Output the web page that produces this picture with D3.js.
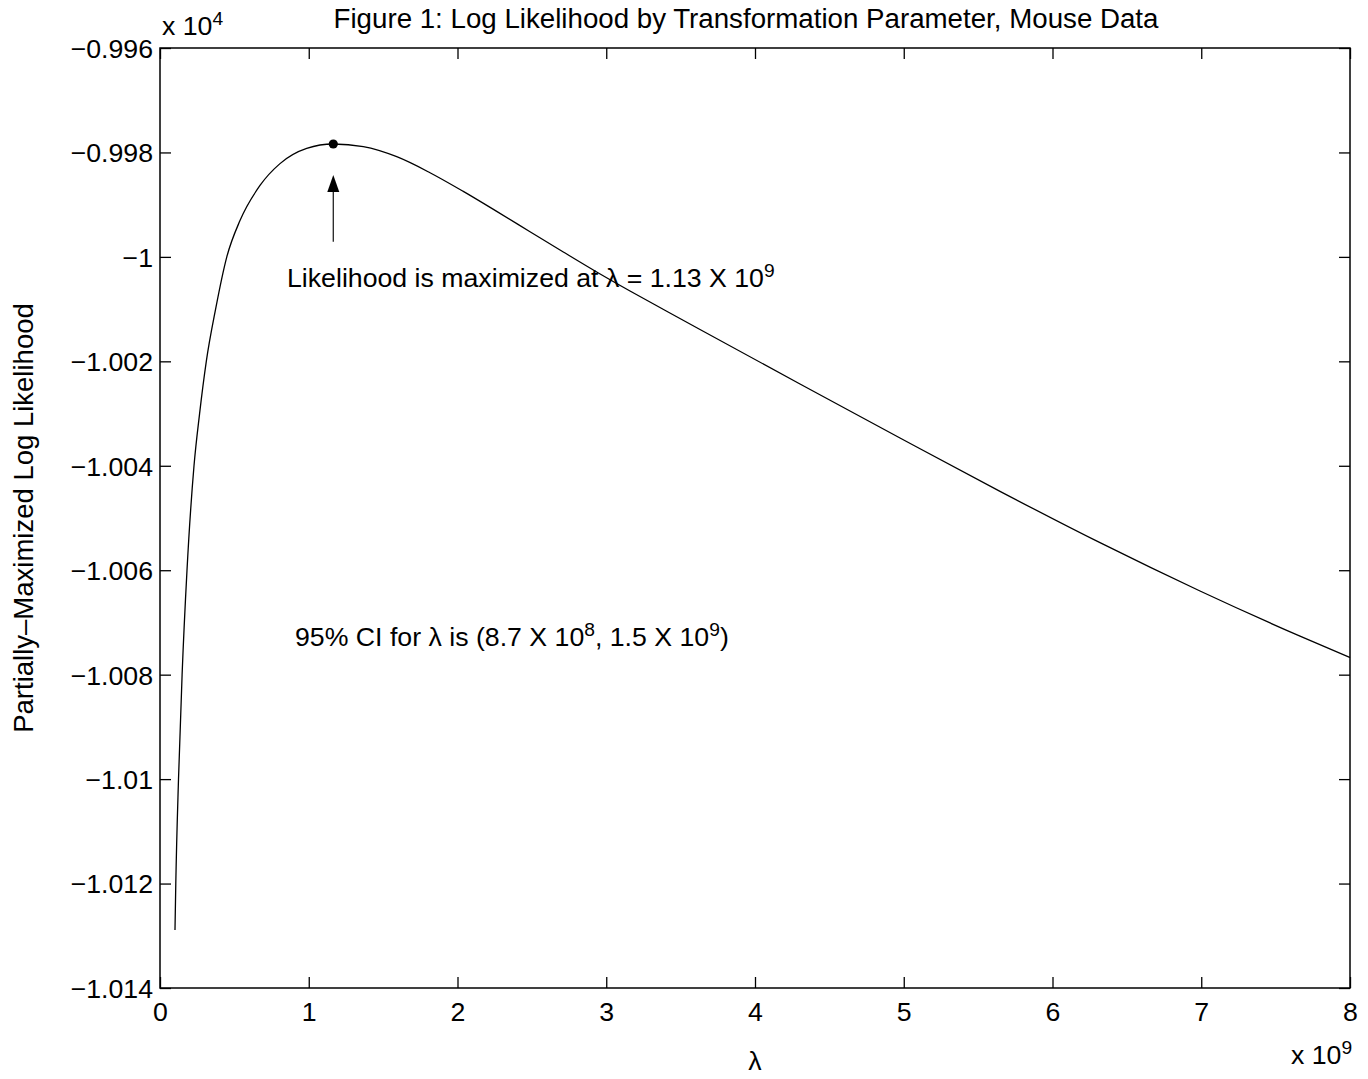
<!DOCTYPE html>
<html>
<head>
<meta charset="utf-8">
<script src="https://cdn.jsdelivr.net/npm/d3@7"></script>
<style>
  html, body { margin: 0; padding: 0; background: #fff; }
  svg text { font-family: "Liberation Sans", Arial, Helvetica, sans-serif; fill: #000; }
</style>
</head>
<body>
<svg id="chart" width="1368" height="1079"></svg>
<script>
// ---- data (lambda in units of 1e9, log likelihood in units of 1e4) ----
const lambdaE9 = [0.1008, 0.1062, 0.1244, 0.1486, 0.1815, 0.2286, 0.2662, 0.3113, 0.3738, 0.4491,
                  0.5378, 0.6723, 0.8067, 0.9862, 1.1650, 1.3667, 1.5913, 1.8151, 2.0390, 2.2635,
                  2.4874, 2.7113, 2.9358, 3.1597, 3.4064, 3.6303, 4.3025, 4.9748, 5.6471, 6.3193,
                  6.9916, 7.6639, 8.0000];
const logLikE4 = [-1.012889, -1.012000, -1.010000, -1.008000, -1.006000, -1.004000, -1.003000, -1.002000, -1.001000, -1.000000,
                  -0.999304, -0.998632, -0.998214, -0.997923, -0.997838, -0.997890, -0.998082, -0.998388, -0.998746, -0.999129,
                  -0.999518, -0.999906, -1.000289, -1.000653, -1.001040, -1.001390, -1.002434, -1.003468, -1.004489, -1.005473,
                  -1.006398, -1.007262, -1.007671];
const maxLambda = [1.165];
const maxLogLik = [-0.997838];
const xTicks = [0, 1, 2, 3, 4, 5, 6, 7, 8];
const xTickLabels = ["0", "1", "2", "3", "4", "5", "6", "7", "8"];
const yTicks = [-0.996, -0.998, -1.000, -1.002, -1.004, -1.006, -1.008, -1.010, -1.012, -1.014];
const yTickLabels = ["\u22120.996", "\u22120.998", "\u22121", "\u22121.002", "\u22121.004", "\u22121.006",
                     "\u22121.008", "\u22121.01", "\u22121.012", "\u22121.014"];

// ---- layout ----
const FS = 26.7;
const PL = 160, PR = 1350, PT = 48, PB = 988;
const svg = d3.select("#chart");
const x = d3.scaleLinear().domain([0, 8]).range([PL, PR]);
const y = d3.scaleLinear().domain([-1.014, -0.996]).range([PB, PT]);
const TICK = 11;

function styleAxis(g) {
  g.select(".domain").remove();
  g.selectAll(".tick line").attr("stroke", "#000").attr("stroke-width", 1.3);
  g.selectAll(".tick text").attr("font-size", FS + "px")
    .attr("font-family", "'Liberation Sans', Arial, sans-serif").attr("fill", "#000");
}
const xb = svg.append("g").attr("transform", `translate(0,${PB})`)
  .call(d3.axisBottom(x).tickValues(xTicks).tickSizeInner(-TICK).tickSizeOuter(0)
        .tickPadding(0).tickFormat((d, i) => xTickLabels[i]));
styleAxis(xb);
xb.selectAll(".tick text").attr("y", 33).attr("dy", null);

svg.append("g").attr("transform", `translate(0,${PT})`)
  .call(d3.axisTop(x).tickValues(xTicks).tickSizeInner(-TICK).tickSizeOuter(0).tickFormat(""))
  .call(styleAxis);

const yl = svg.append("g").attr("transform", `translate(${PL},0)`)
  .call(d3.axisLeft(y).tickValues(yTicks).tickSizeInner(-TICK).tickSizeOuter(0)
        .tickPadding(0).tickFormat((d, i) => yTickLabels[i]));
styleAxis(yl);
yl.selectAll(".tick text").attr("x", -7).attr("dy", "0.35em");

svg.append("g").attr("transform", `translate(${PR},0)`)
  .call(d3.axisRight(y).tickValues(yTicks).tickSizeInner(-TICK).tickSizeOuter(0).tickFormat(""))
  .call(styleAxis);

svg.append("rect").attr("x", PL).attr("y", PT)
  .attr("width", PR - PL).attr("height", PB - PT)
  .attr("fill", "none").attr("stroke", "#000").attr("stroke-width", 1.5);

// curve
const line = d3.line().x(d => x(d[0])).y(d => y(d[1])).curve(d3.curveMonotoneX);
svg.append("path").datum(lambdaE9.map((l, i) => [l, logLikE4[i]]))
  .attr("d", line).attr("fill", "none").attr("stroke", "#000").attr("stroke-width", 1.3);

// maximum dot
svg.selectAll("circle.max").data(maxLambda).enter().append("circle")
  .attr("class", "max")
  .attr("cx", d => x(d)).attr("cy", (d, i) => y(maxLogLik[i])).attr("r", 4.6).attr("fill", "#000");

// arrow
const ax = x(maxLambda[0]);
const tailY = 241.7, tipY = 175, baseY = 192;
svg.append("line").attr("x1", ax).attr("x2", ax).attr("y1", tailY).attr("y2", baseY)
  .attr("stroke", "#222").attr("stroke-width", 1.3);
svg.append("path").attr("d", `M${ax},${tipY}L${ax - 6},${baseY}L${ax + 6},${baseY}Z`).attr("fill", "#000");

function supText(xp, yp, parts, fs) {
  fs = fs || FS;
  const t = svg.append("text").attr("x", xp).attr("y", yp).attr("font-size", fs + "px");
  let raised = false;
  parts.forEach(p => {
    const ts = t.append("tspan").text(p.t);
    if (p.sup) {
      ts.attr("font-size", (fs * 0.72) + "px").attr("dy", -10);
      raised = true;
    } else if (raised) {
      ts.attr("dy", 10);
      raised = false;
    }
  });
  return t;
}

svg.append("text").attr("x", 746).attr("y", 28).attr("text-anchor", "middle")
  .attr("font-size", "27.7px").text("Figure 1: Log Likelihood by Transformation Parameter, Mouse Data");

supText(162, 35, [{t: "x 10"}, {t: "4", sup: true}]);
supText(1291, 1064, [{t: "x 10"}, {t: "9", sup: true}]);

svg.append("text").attr("x", x(4)).attr("y", 1070).attr("text-anchor", "middle")
  .attr("font-size", FS + "px").text("\u03BB");
svg.append("text").attr("transform", `translate(33,${(PT + PB) / 2}) rotate(-90)`)
  .attr("text-anchor", "middle").attr("font-size", "27.5px")
  .text("Partially\u2013Maximized Log Likelihood");

supText(287, 287, [{t: "Likelihood is maximized at \u03BB = 1.13 X 10"}, {t: "9", sup: true}]);
supText(295, 646, [{t: "95% CI for \u03BB is (8.7 X 10"}, {t: "8", sup: true}, {t: ", 1.5 X 10"}, {t: "9", sup: true}, {t: ")"}]);
</script>
</body>
</html>
